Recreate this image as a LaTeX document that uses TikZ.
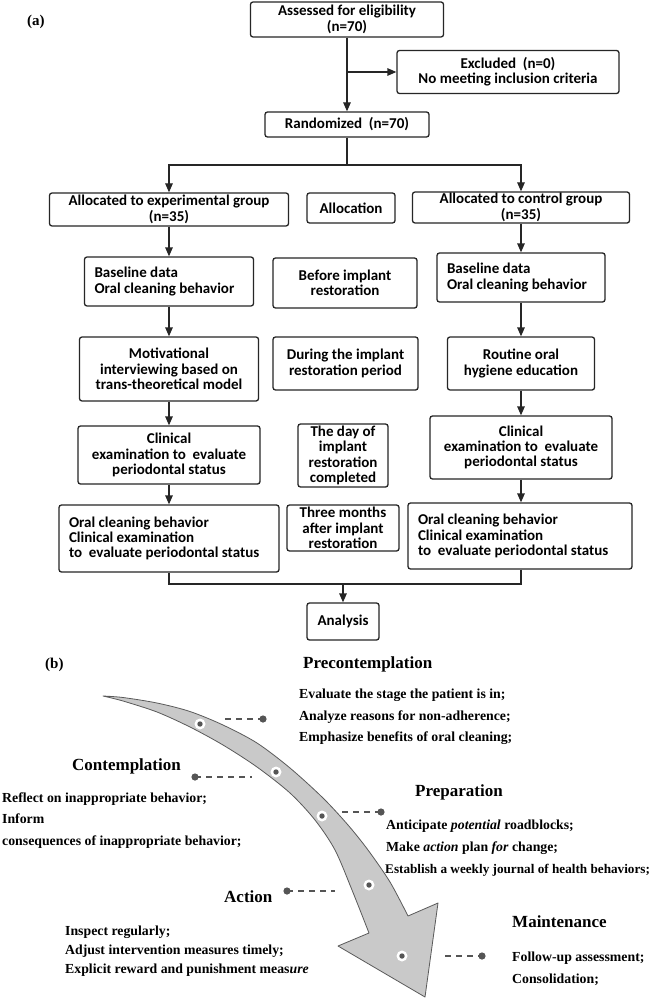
\documentclass[tikz,border=0pt]{standalone}
\usepackage{fontspec}
\setmainfont{Liberation Serif}
\newfontfamily\cfont{Carlito}
\usetikzlibrary{arrows.meta}
\definecolor{boxline}{HTML}{262626}
\definecolor{bandfill}{HTML}{C9C9C9}
\definecolor{bandline}{HTML}{5A5A5A}
\definecolor{dotc}{HTML}{555555}
\newcommand\normsp{\spaceskip=0pt\relax\xspaceskip=0pt\relax}
\tikzset{
  box/.style={draw=boxline, line width=1.3pt, rounded corners=2.5pt, inner sep=0pt,
    font=\cfont\bfseries\fontsize{15}{15.4}\selectfont, align=center},
  lbox/.style={box, align=left, inner xsep=10pt},
  flow/.style={draw=boxline, line width=1.3pt, -{Triangle[length=9pt,width=7.5pt]}},
  link/.style={draw=boxline, line width=1.3pt},
  title/.style={font=\bfseries\fontsize{17}{20}\selectfont, inner sep=0pt, anchor=west},
  body/.style={font=\bfseries\fontsize{13.8}{16}\selectfont, inner sep=0pt, anchor=west,
    text height=0.7em, text depth=0.22em},
  panel/.style={font=\bfseries\fontsize{15}{18}\selectfont, inner sep=0pt, anchor=west},
  dashline/.style={draw=dotc, line width=1.6pt, dash pattern=on 6pt off 5pt},
  enddot/.style={fill=dotc},
}
\begin{document}
\begin{tikzpicture}[x=1pt,y=-1pt]
\useasboundingbox (0,0) rectangle (658,1000);
\fill[white] (0,0) rectangle (658,1000);

% ---------- panel (a) ----------
\node[panel] (la) at (27,22) {(a)};

\node[box, minimum width=193pt, minimum height=35pt] (assess) at (347,19.5) {Assessed for eligibility\\(n=70)};
\node[box, minimum width=222pt, minimum height=43pt] (excl) at (508,72) {Excluded\ \ (n=0)\\No meeting inclusion criteria};
\node[box, minimum width=164pt, minimum height=25pt] (rand) at (347,124.5) {Randomized\ \ (n=70)};

\node[box, minimum width=239pt, minimum height=33pt] (allocE) at (169,209.5) {Allocated to experimental group\\(n=35)};
\node[box, minimum width=88pt, minimum height=30pt] (alloc) at (351,208) {Allocation};
\node[box, minimum width=217pt, minimum height=31pt] (allocC) at (521,207.5) {Allocated to control group\\(n=35)};

\node[lbox, text width=149pt, minimum height=49pt] (baseE) at (169,281.5) {\normsp Baseline data\\Oral cleaning behavior};
\node[box, minimum width=144pt, minimum height=50pt] (before) at (345,283) {Before implant\\restoration};
\node[lbox, text width=148pt, minimum height=49pt] (baseC) at (521,277.5) {\normsp Baseline data\\Oral cleaning behavior};

\node[box, minimum width=179pt, minimum height=64pt] (motiv) at (169,369) {Motivational\\interviewing based on\\trans-theoretical model};
\node[box, minimum width=145pt, minimum height=53pt] (during) at (345.5,363.5) {During the implant\\restoration period};
\node[box, minimum width=147pt, minimum height=53pt] (routine) at (521,363.5) {Routine oral\\hygiene education};

\node[box, minimum width=182pt, minimum height=58pt] (clinE) at (169,455) {Clinical\\examination to\ \ evaluate\\periodontal status};
\node[box, minimum width=90pt, minimum height=63pt] (day) at (343,455.5) {The day of\\implant\\restoration\\completed};
\node[box, minimum width=182pt, minimum height=63pt] (clinC) at (521,447.5) {Clinical\\examination to\ \ evaluate\\periodontal status};

\node[lbox, text width=200pt, minimum height=67pt] (oralE) at (169,538.5) {\normsp Oral cleaning behavior\\Clinical examination\\to\ \ evaluate periodontal status};
\node[box, minimum width=112pt, minimum height=46pt] (three) at (343,528) {Three months\\after implant\\restoration};
\node[lbox, text width=204pt, minimum height=66pt] (oralC) at (520,536) {\normsp Oral cleaning behavior\\Clinical examination\\to\ \ evaluate periodontal status};

\node[box, minimum width=72pt, minimum height=37pt] (anal) at (343,621.5) {Analysis};

\coordinate (ex) at (347,72);
\coordinate (split) at (347,165);
\coordinate (join) at (343,584);

\draw[flow] (assess.south) -- (rand.north);
\draw[flow] (ex) -- (excl.west);
\draw[link] (rand.south) -- (split);
\draw[flow] (split) -| (allocE.north);
\draw[flow] (split) -| (allocC.north);
\draw[flow] (allocE) -- (baseE);
\draw[flow] (baseE) -- (motiv);
\draw[flow] (motiv) -- (clinE);
\draw[flow] (clinE) -- (oralE);
\draw[flow] (allocC) -- (baseC);
\draw[flow] (baseC) -- (routine);
\draw[flow] (routine) -- (clinC);
\draw[flow] (clinC.south) -- (clinC.south |- oralC.north);
\draw[link] (oralE.south) |- (join);
\draw[link] (oralC.south -| clinC.south) |- (join);
\draw[flow] (join) -- (anal.north);

% ---------- panel (b) ----------
\node[panel] (lb) at (45,665) {(b)};

\filldraw[fill=bandfill, draw=bandline, line width=0.8pt, line join=round]
  plot[smooth, tension=0.5] coordinates {(103,696) (123,697.5) (157,703) (190,711.5) (223,725) (257,743) (290,768) (323,798) (348,825) (368,850) (390,882) (408,916)}
  -- (438,903) -- (425,997) -- (338,946)
  -- plot[smooth, tension=0.5] coordinates {(369,933) (352,890) (335,850) (315,820) (290,793) (257,767) (223,745) (190,727) (157,712) (123,701) (103,696)}
  -- cycle;

\foreach \p in {(200,724),(276,772),(322,816),(369,885),(402,956)}{
  \fill[white] \p circle (5.5pt);
  \fill[dotc] \p circle (2.7pt);
}

% connectors
\coordinate (d1a) at (225,719); \coordinate (d1b) at (263,719);
\coordinate (d2a) at (195,777); \coordinate (d2b) at (252,777);
\coordinate (d3a) at (342,812); \coordinate (d3b) at (381,812);
\coordinate (d4a) at (287,891); \coordinate (d4b) at (335,891);
\coordinate (d5a) at (445,956); \coordinate (d5b) at (482,956);
\draw[dashline] (d1a) -- (d1b); \fill[enddot] (d1b) circle (3.6pt);
\draw[dashline] (d2a) -- (d2b); \fill[enddot] (d2a) circle (3.6pt);
\draw[dashline] (d3a) -- (d3b); \fill[enddot] (d3b) circle (3.6pt);
\draw[dashline] (d4a) -- (d4b); \fill[enddot] (d4a) circle (3.6pt);
\draw[dashline] (d5a) -- (d5b); \fill[enddot] (d5b) circle (3.6pt);

% texts
\node[title] (tpre) at (303,664) {Precontemplation};
\node[body] (p1) at (299,696) {Evaluate the stage the patient is in;};
\node[body] (p2) at (299,718) {Analyze reasons for non-adherence;};
\node[body] (p3) at (299,739) {Emphasize benefits of oral cleaning;};

\node[title] (tcon) at (72,766) {Contemplation};
\node[body] (c1) at (2,800) {Reflect on inappropriate behavior;};
\node[body] (c2) at (2,821) {Inform};
\node[body] (c3) at (2,843) {consequences of inappropriate behavior;};

\node[title] (tprep) at (415,792) {Preparation};
\node[body] (r1) at (386,827) {Anticipate \textit{potential} roadblocks;};
\node[body] (r2) at (386,849) {Make \textit{action} plan \textit{for} change;};
\node[body, font=\bfseries\fontsize{13.2}{16}\selectfont] (r3) at (385,871) {Establish a weekly journal of health behaviors;};

\node[title] (tact) at (224,897) {Action};
\node[body] (a1) at (65,933) {Inspect regularly;};
\node[body] (a2) at (65,952) {Adjust intervention measures timely;};
\node[body] (a3) at (65,971) {Explicit reward and punishment meas\textit{ure}};

\node[title] (tmain) at (512,922) {Maintenance};
\node[body] (m1) at (512,959) {Follow-up assessment;};
\node[body] (m2) at (512,981) {Consolidation;};
\end{tikzpicture}
\end{document}
